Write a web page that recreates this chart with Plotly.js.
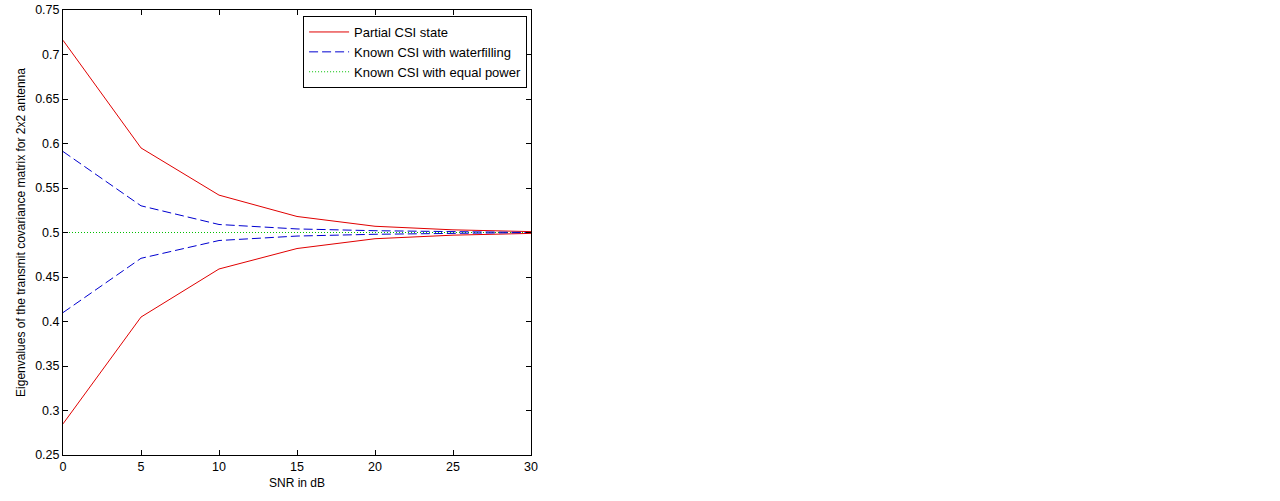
<!DOCTYPE html>
<html>
<head>
<meta charset="utf-8">
<script src="https://cdn.plot.ly/plotly-3.0.1.min.js"></script>
<style>html,body{margin:0;padding:0;background:#fff;}#chart{width:1280px;height:501px;}</style>
</head>
<body>
<div id="chart"></div>
<script>
const snr = [0, 5, 10, 15, 20, 25, 30];
const partialUpper = [0.716, 0.595, 0.542, 0.518, 0.507, 0.503, 0.501];
const partialLower = [0.285, 0.405, 0.459, 0.482, 0.493, 0.497, 0.499];
const waterUpper = [0.591, 0.530, 0.509, 0.504, 0.502, 0.501, 0.500];
const waterLower = [0.410, 0.471, 0.491, 0.496, 0.498, 0.499, 0.500];
const equalPower = [0.5, 0.5, 0.5, 0.5, 0.5, 0.5, 0.5];
const xTicks = [0, 5, 10, 15, 20, 25, 30];
const yTicks = [0.25, 0.3, 0.35, 0.4, 0.45, 0.5, 0.55, 0.6, 0.65, 0.7, 0.75];

const red = '#e00000', blue = '#0000d0', green = '#00c000';
const traces = [
  {x: snr, y: partialUpper, mode: 'lines', name: 'Partial CSI state', line: {color: red, width: 1}},
  {x: snr, y: waterUpper, mode: 'lines', name: 'Known CSI with waterfilling', line: {color: blue, width: 1, dash: '9px,4px'}},
  {x: snr, y: equalPower, mode: 'lines', name: 'Known CSI with equal power', line: {color: green, width: 1, dash: '1px,2px'}},
  {x: snr, y: partialLower, mode: 'lines', showlegend: false, line: {color: red, width: 1}},
  {x: snr, y: waterLower, mode: 'lines', showlegend: false, line: {color: blue, width: 1, dash: '9px,4px'}}
];

const fam = 'Liberation Sans, Arial, sans-serif';
const layout = {
  width: 1280, height: 501,
  paper_bgcolor: '#fff', plot_bgcolor: '#fff',
  margin: {l: 63, r: 749, t: 10, b: 46},
  font: {family: fam, size: 12, color: '#000'},
  showlegend: true,
  legend: {
    x: 0.513, y: 0.9865, xanchor: 'left', yanchor: 'top',
    bordercolor: '#000', borderwidth: 1, bgcolor: '#fff',
    font: {family: fam, size: 13, color: '#000'},
    tracegroupgap: 0, itemwidth: 40
  },
  xaxis: {
    range: [0, 30], tickvals: xTicks, ticktext: xTicks.map(String),
    ticks: 'inside', ticklen: 5, tickcolor: '#000',
    showline: true, linecolor: '#000', linewidth: 1, mirror: 'ticks',
    showgrid: false, zeroline: false,
    title: {text: 'SNR in dB', font: {family: fam, size: 12, color: '#000'}, standoff: 5},
    tickfont: {family: fam, size: 12.5, color: '#000'}
  },
  yaxis: {
    range: [0.25, 0.75], tickvals: yTicks, ticktext: yTicks.map(v => String(v)),
    ticks: 'inside', ticklen: 5, tickcolor: '#000',
    showline: true, linecolor: '#000', linewidth: 1, mirror: 'ticks',
    showgrid: false, zeroline: false,
    title: {text: 'Eigenvalues of the transmit covariance matrix for 2x2 antenna', font: {family: fam, size: 12, color: '#000'}, standoff: 6},
    tickfont: {family: fam, size: 12.5, color: '#000'}
  }
};
Plotly.newPlot('chart', traces, layout, {staticPlot: true, displayModeBar: false});
</script>
</body>
</html>
